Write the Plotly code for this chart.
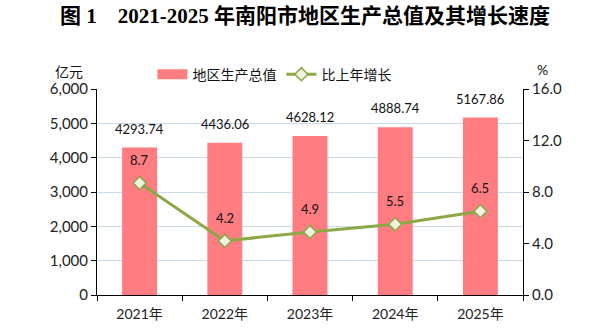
import plotly.graph_objects as go

years = ["2021年", "2022年", "2023年", "2024年", "2025年"]
gdp = [4293.74, 4436.06, 4628.12, 4888.74, 5167.86]
growth = [8.7, 4.2, 4.9, 5.5, 6.5]

BAR = "#FF7C80"
LINE = "#8AA846"
GRID = "#C9DAEE"
FONT = "Lato, 'Noto Sans CJK SC', sans-serif"

fig = go.Figure()
fig.add_trace(go.Bar(
    x=years, y=gdp, name="地区生产总值",
    marker=dict(color=BAR, line=dict(width=0)),
    width=0.41, yaxis="y", showlegend=False,
))
# legend-only entry to draw the wide rectangular swatch
fig.add_trace(go.Scatter(
    x=[None], y=[None], name="地区生产总值", mode="lines",
    line=dict(color=BAR, width=10), showlegend=True,
))
fig.add_trace(go.Scatter(
    x=years, y=growth, name="比上年增长", yaxis="y2",
    mode="lines+markers",
    line=dict(color=LINE, width=3),
    marker=dict(symbol="diamond", size=10, color="#EEF3E2",
                line=dict(color=LINE, width=1.5)),
))

annotations = []
for yr, v in zip(years, gdp):
    annotations.append(dict(x=yr, y=v, xref="x", yref="y", text=f"{v:.2f}",
                            showarrow=False, yshift=19,
                            font=dict(family=FONT, size=13, color="#111")))
for yr, v in zip(years, growth):
    annotations.append(dict(x=yr, y=v, xref="x", yref="y2", text=f"{v:.1f}",
                            showarrow=False, yshift=23,
                            font=dict(family=FONT, size=13, color="#111")))
annotations.append(dict(x=0, y=1.0, xref="paper", yref="paper", text="亿元",
                        showarrow=False, xanchor="right", yanchor="bottom",
                        xshift=-12, yshift=7,
                        font=dict(family=FONT, size=14, color="#111")))
annotations.append(dict(x=1, y=1.0, xref="paper", yref="paper", text="%",
                        showarrow=False, xanchor="left", yanchor="bottom",
                        xshift=12, yshift=9,
                        font=dict(family=FONT, size=14, color="#111")))

fig.update_layout(
    width=610, height=333,
    margin=dict(l=97, r=87, t=89, b=38),
    paper_bgcolor="white", plot_bgcolor="white",
    title=dict(text="图 1&nbsp;&nbsp;&nbsp;&nbsp;2021-2025 年南阳市地区生产总值及其增长速度",
               x=0.5, xanchor="center", y=0.953, yanchor="middle",
               font=dict(family="'Liberation Serif', 'Noto Sans CJK SC', serif",
                         size=21, color="#000", weight="bold")),
    showlegend=True,
    legend=dict(orientation="h", x=0.13, y=1.07, xanchor="left", yanchor="middle",
                font=dict(family=FONT, size=14, color="#111"),
                itemwidth=30, tracegroupgap=0, bgcolor="rgba(0,0,0,0)"),
    xaxis=dict(type="category", showline=True, linecolor="#000", linewidth=1,
               ticks="outside", tickson="boundaries", ticklen=5, tickcolor="#000",
               ticklabelstandoff=6,
               tickfont=dict(family=FONT, size=14, color="#222"), showgrid=False),
    yaxis=dict(range=[0, 6000], dtick=1000, tickformat=",", showline=True,
               linecolor="#000", linewidth=1, ticks="outside", ticklen=5,
               tickcolor="#000", gridcolor=GRID, gridwidth=1, zeroline=False,
               tickfont=dict(family=FONT, size=15, color="#222")),
    yaxis2=dict(range=[0, 16], dtick=4, tickformat=".1f", overlaying="y",
                side="right", showline=True, linecolor="#000", linewidth=1,
                ticks="outside", ticklen=5, tickcolor="#000", showgrid=False,
                zeroline=False,
                tickfont=dict(family=FONT, size=15, color="#222")),
    annotations=annotations,
)

fig.write_html("out.html")
